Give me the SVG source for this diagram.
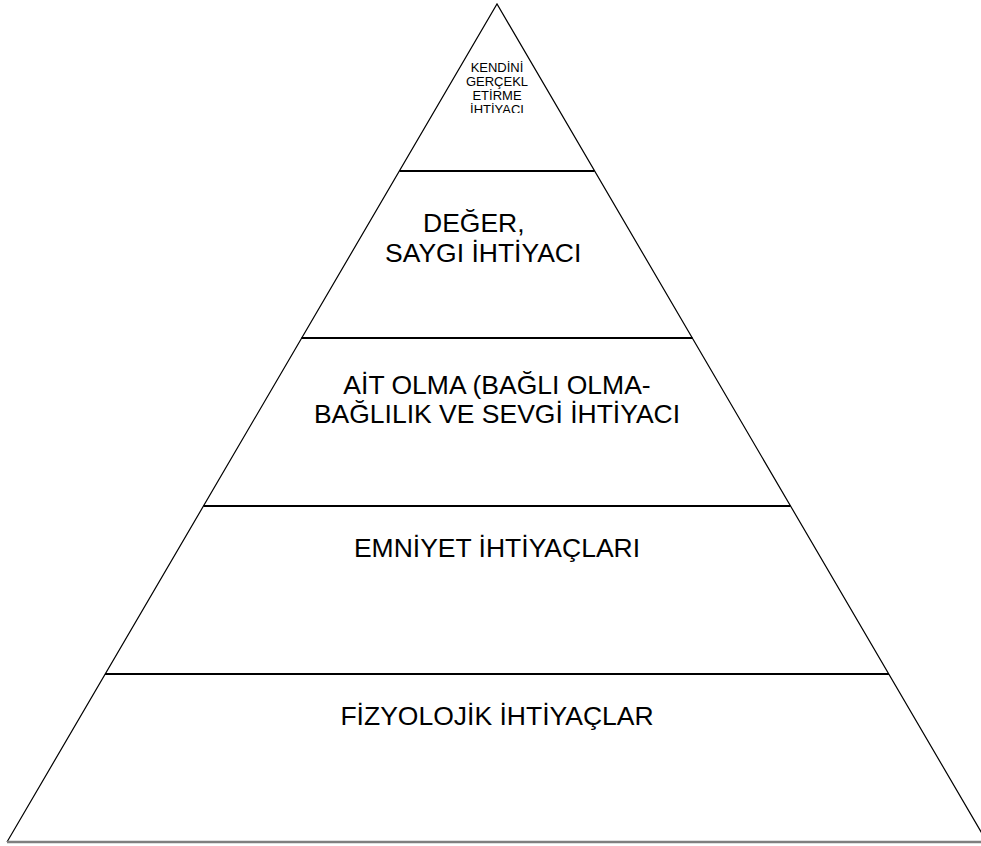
<svg xmlns="http://www.w3.org/2000/svg" width="981" height="846" viewBox="0 0 981 846">
  <style>
    .side { fill: none; stroke: #000; stroke-width: 1.2; }
    .sep { stroke: #000; stroke-width: 2; }
    .base { stroke: #7f7f7f; stroke-width: 2.5; }
    .lbl { font-family: "Liberation Sans", Arial, sans-serif; font-size: 26.5px; fill: #000; }
    .small { font-family: "Liberation Sans", Arial, sans-serif; font-size: 13px; fill: #000; text-anchor: middle; }
  </style>
  <defs>
    <clipPath id="topclip"><rect x="400" y="50" width="200" height="63"/></clipPath>
  </defs>
  <rect width="981" height="846" fill="#fff"/>
  <g id="connectors">
    <path class="side" d="M7,842 L497,4 L987,842"/>
    <line class="base" x1="7" y1="842" x2="981" y2="842"/>
    <line class="sep" x1="399.5" y1="171" x2="594.5" y2="171"/>
    <line class="sep" x1="301.5" y1="338" x2="692.5" y2="338"/>
    <line class="sep" x1="203.5" y1="506" x2="790.5" y2="506"/>
    <line class="sep" x1="105" y1="674" x2="889" y2="674"/>
  </g>
  <g id="level5">
    <g clip-path="url(#topclip)">
      <text class="small" x="497" y="72">KENDİNİ</text>
      <text class="small" x="497" y="86">GERÇEKL</text>
      <text class="small" x="497" y="100">ETİRME</text>
      <text class="small" x="497" y="114">İHTİYACI</text>
    </g>
  </g>
  <g id="level4">
    <text class="lbl" x="423" y="232">DEĞER,</text>
    <text class="lbl" x="385" y="262">SAYGI İHTİYACI</text>
  </g>
  <g id="level3">
    <text class="lbl" x="497" y="394" text-anchor="middle">AİT OLMA (BAĞLI OLMA-</text>
    <text class="lbl" x="497" y="423" text-anchor="middle">BAĞLILIK VE SEVGİ İHTİYACI</text>
  </g>
  <g id="level2">
    <text class="lbl" x="497" y="557" text-anchor="middle">EMNİYET İHTİYAÇLARI</text>
  </g>
  <g id="level1">
    <text class="lbl" x="497" y="725" text-anchor="middle">FİZYOLOJİK İHTİYAÇLAR</text>
  </g>
</svg>
